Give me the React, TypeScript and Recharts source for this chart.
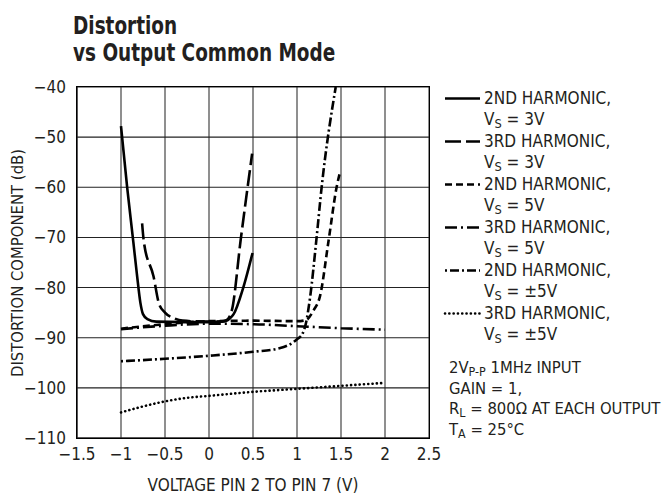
import React from "react";
import { LineChart, Line, XAxis, YAxis } from "recharts";

// axis ticks
const xTicks = [-1.5, -1, -0.5, 0, 0.5, 1, 1.5, 2, 2.5];
const yTicks = [-110, -100, -90, -80, -70, -60, -50, -40];

// [voltage, dB]
const second3V = [
  [-1, -47.8], [-0.93, -60], [-0.86, -70.9], [-0.82, -77.2], [-0.78, -83],
  [-0.75, -85.3], [-0.7, -86.3], [-0.6, -86.8], [0, -86.9], [0.2, -86.6],
  [0.24, -86.1], [0.28, -85.3], [0.386, -80.2], [0.495, -73.1],
];
const third3V = [
  [-0.76, -67.2], [-0.74, -70.9], [-0.63, -77.8], [-0.57, -83.1], [-0.5, -85],
  [-0.4, -86.1], [-0.3, -86.6], [0, -86.8], [0.15, -86.8], [0.2, -86.5],
  [0.26, -84.5], [0.36, -70.5], [0.49, -53.3],
];
const second5V = [
  [-1, -88.2], [-0.5, -87.3], [0, -86.7], [0.5, -86.6], [1.0, -86.7],
  [1.1, -86.5], [1.19, -84.5], [1.26, -81.8], [1.36, -70.5], [1.45, -60], [1.49, -56.9],
];
const third5V = [
  [-1, -88.3], [-0.5, -87.6], [0, -87.2], [0.5, -87.3], [1.0, -87.7],
  [1.5, -88.1], [2.0, -88.4],
];
const secondPM5V = [
  [-1, -94.7], [-0.5, -94.2], [0, -93.6], [0.5, -92.8], [0.8, -92.1],
  [0.95, -91], [1.0, -90.3], [1.06, -89.3], [1.1, -87.2], [1.15, -81.8],
  [1.22, -70.5], [1.28, -60], [1.44, -40],
];
const thirdPM5V = [
  [-1, -104.9], [-0.75, -103.7], [-0.5, -102.7], [-0.25, -102], [0, -101.6],
  [0.5, -100.8], [1, -100.2], [1.5, -99.6], [2, -99],
];

const toPts = (arr: number[][]) => arr.map(([x, y]) => ({ x, y }));

const FONT = "'DejaVu Sans Condensed', 'DejaVu Sans', sans-serif";
const INK = "#231f20";

const series = [
  { name: "2ND HARMONIC,", vs: "3V", pts: second3V, dash: undefined as string | undefined, cap: "butt" },
  { name: "3RD HARMONIC,", vs: "3V", pts: third3V, dash: "16 5", cap: "butt" },
  { name: "2ND HARMONIC,", vs: "5V", pts: second5V, dash: "7 4", cap: "butt" },
  { name: "3RD HARMONIC,", vs: "5V", pts: third5V, dash: "12 4 2 4", cap: "butt" },
  { name: "2ND HARMONIC,", vs: "±5V", pts: secondPM5V, dash: "2 3 9 3", cap: "butt" },
  { name: "3RD HARMONIC,", vs: "±5V", pts: thirdPM5V, dash: "0.1 4.2", cap: "round" },
];

// chart layout (plot box = margins + axis sizes)
const W = 670;
const H = 498;
const M = { top: 87, right: 241, bottom: 0, left: 0 };
const Y_AXIS_W = 77;
const X_AXIS_H = 60;
const plotL = M.left + Y_AXIS_W;
const plotT = M.top;
const plotW = W - M.right - plotL;
const plotH = H - M.bottom - X_AXIS_H - plotT;
const xMin = xTicks[0];
const xMax = xTicks[xTicks.length - 1];
const yMin = yTicks[0];
const yMax = yTicks[yTicks.length - 1];
const gx = (v: number) => plotL + ((v - xMin) / (xMax - xMin)) * plotW;
const gy = (v: number) => plotT + ((yMax - v) / (yMax - yMin)) * plotH;

const fmt = (v: number) => (v < 0 ? "\u2212" + Math.abs(v) : String(v));

const Sub = ({ children }: { children: React.ReactNode }) => (
  <span style={{ fontSize: "0.75em", position: "relative", top: "0.25em", lineHeight: 0 }}>{children}</span>
);

export default function App() {
  return (
    <div
      style={{
        position: "absolute", left: 0, top: 0, width: W, height: H,
        fontFamily: FONT, color: INK, fontSize: 17, background: "#fff",
      }}
    >
      <div
        style={{
          position: "absolute", left: 73, top: 12, fontWeight: "bold", fontSize: 25, lineHeight: "27px",
          whiteSpace: "nowrap", transform: "scaleX(0.82)", transformOrigin: "0 0",
        }}
      >
        Distortion<br />vs Output Common Mode
      </div>

      {/* grid behind the chart, on the tick values */}
      <svg width={W} height={H} style={{ position: "absolute", left: 0, top: 0 }}>
        {xTicks.map((v) => (
          <line key={"vx" + v} x1={gx(v)} x2={gx(v)} y1={plotT} y2={plotT + plotH} stroke="#333" strokeWidth={1.1} />
        ))}
        {yTicks.map((v) => (
          <line key={"hy" + v} x1={plotL} x2={plotL + plotW} y1={gy(v)} y2={gy(v)} stroke="#222" strokeWidth={1.1} />
        ))}
      </svg>

      <div style={{ position: "absolute", left: 0, top: 0, width: W, height: H }}>
        <LineChart width={W} height={H} margin={M}>
          <XAxis
            dataKey="x"
            type="number"
            domain={[xMin, xMax]}
            ticks={xTicks}
            tickFormatter={fmt}
            height={X_AXIS_H}
            tickSize={0}
            tickMargin={10}
            stroke={INK}
            fontSize={17}
          />
          <YAxis
            dataKey="y"
            type="number"
            domain={[yMin, yMax]}
            ticks={yTicks}
            tickFormatter={fmt}
            width={Y_AXIS_W}
            tickSize={0}
            tickMargin={11}
            stroke={INK}
            fontSize={17}
          />
          {series.map((s, i) => (
            <Line
              key={i}
              data={toPts(s.pts)}
              dataKey="y"
              type="monotone"
              stroke="#000"
              strokeWidth={2.6}
              strokeDasharray={s.dash}
              strokeLinecap={s.cap as any}
              dot={false}
              isAnimationActive={false}
            />
          ))}
        </LineChart>
      </div>

      {/* plot frame */}
      <div
        style={{
          position: "absolute", left: plotL - 1, top: plotT - 1, width: plotW + 2, height: plotH + 2,
          border: "1.6px solid #000", boxSizing: "border-box", pointerEvents: "none",
        }}
      />

      <div
        style={{
          position: "absolute", left: 17, top: 263, fontSize: 16.5, whiteSpace: "nowrap",
          transform: "translate(-50%, -50%) rotate(-90deg)",
        }}
      >
        DISTORTION COMPONENT (dB)
      </div>
      <div style={{ position: "absolute", left: 253, top: 485, fontSize: 17, whiteSpace: "nowrap", transform: "translate(-50%, -50%)" }}>
        VOLTAGE PIN 2 TO PIN 7 (V)
      </div>

      {/* legend */}
      <svg width={50} height={300} style={{ position: "absolute", left: 440, top: 80 }}>
        {series.map((s, i) => (
          <line
            key={i}
            x1={5}
            x2={40}
            y1={18.5 + i * 43}
            y2={18.5 + i * 43}
            stroke="#000"
            strokeWidth={2.6}
            strokeDasharray={s.dash}
            strokeLinecap={s.cap as any}
          />
        ))}
      </svg>
      {series.map((s, i) => (
        <div key={i} style={{ position: "absolute", left: 484, top: 88 + i * 43, fontSize: 17, lineHeight: "21px", whiteSpace: "nowrap" }}>
          {s.name}
          <br />
          V<Sub>S</Sub> = {s.vs}
        </div>
      ))}

      <div style={{ position: "absolute", left: 449, top: 358, fontSize: 16.5, lineHeight: "20.5px", whiteSpace: "nowrap" }}>
        2V<Sub>P-P</Sub> 1MHz INPUT<br />
        GAIN = 1,<br />
        R<Sub>L</Sub> = 800Ω AT EACH OUTPUT<br />
        T<Sub>A</Sub> = 25°C
      </div>
    </div>
  );
}
